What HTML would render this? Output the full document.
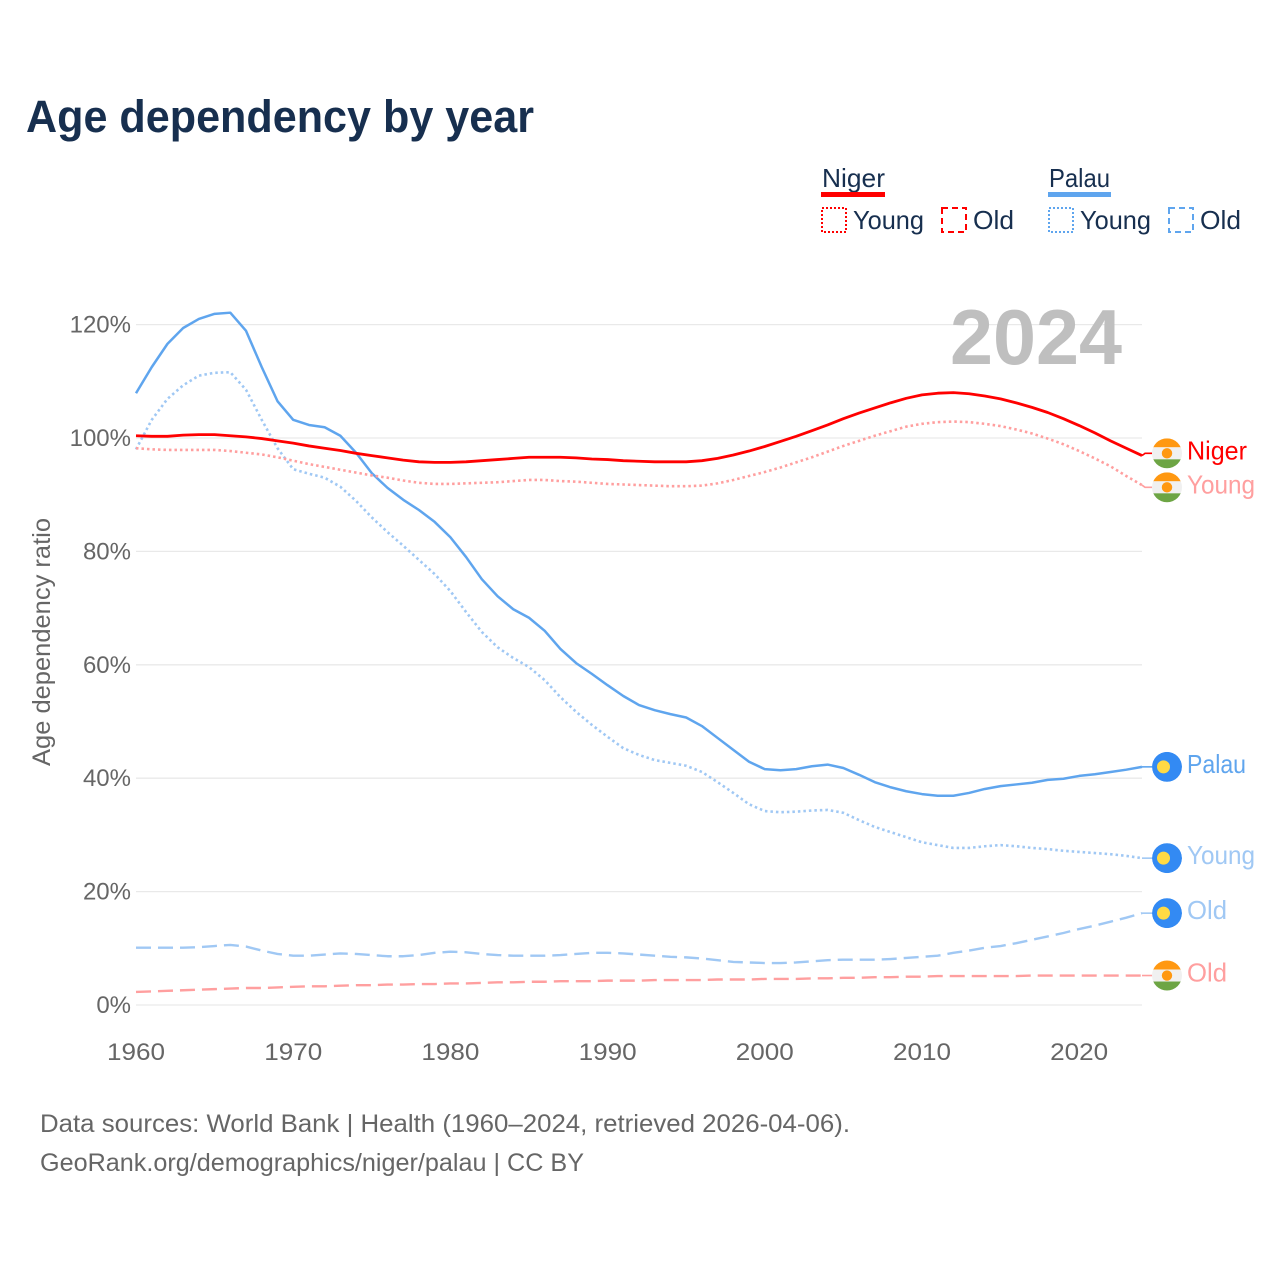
<!DOCTYPE html>
<html lang="en">
<head>
<meta charset="utf-8">
<title>Age dependency by year</title>
<style>
  html, body { margin: 0; padding: 0; background: #fff; }
  svg { display: block; font-family: "Liberation Sans", sans-serif; }
</style>
</head>
<body>
<svg id="chart" xmlns="http://www.w3.org/2000/svg" width="1280" height="1280" viewBox="0 0 1280 1280">
  <rect x="0" y="0" width="1280" height="1280" fill="#ffffff"/>
  <defs>
    <clipPath id="flag-clip"><circle cx="0" cy="0" r="15"/></clipPath>
  </defs>
  <text x="26" y="132" font-size="45" font-weight="700" fill="#172f4f" textLength="508" lengthAdjust="spacingAndGlyphs">Age dependency by year</text>

  <g id="grid"></g>
  <text x="950" y="364" font-size="78" font-weight="700" fill="#bfbfbf" textLength="172" lengthAdjust="spacingAndGlyphs">2024</text>
  <g id="y-axis"></g>
  <g id="x-axis"></g>
  <text transform="translate(50,642) rotate(-90)" text-anchor="middle" font-size="25" fill="#666666" textLength="248" lengthAdjust="spacingAndGlyphs">Age dependency ratio</text>
  <g id="series"></g>
  <g id="labels"></g>

  <g>
    <text x="822" y="187" font-size="26" fill="#172f4f" textLength="63" lengthAdjust="spacingAndGlyphs">Niger</text>
    <rect x="821" y="192" width="64" height="5" fill="#ff0000"/>
    <rect x="822" y="208" width="24" height="24" fill="none" stroke="#ff0000" stroke-width="2" stroke-dasharray="2 2"/>
    <text x="853" y="229" font-size="26" fill="#172f4f" textLength="71" lengthAdjust="spacingAndGlyphs">Young</text>
    <rect x="942" y="208" width="24" height="24" fill="none" stroke="#ff0000" stroke-width="2" stroke-dasharray="6 4"/>
    <text x="973" y="229" font-size="26" fill="#172f4f" textLength="41" lengthAdjust="spacingAndGlyphs">Old</text>

    <text x="1049" y="187" font-size="26" fill="#172f4f" textLength="61" lengthAdjust="spacingAndGlyphs">Palau</text>
    <rect x="1048" y="192" width="63" height="5" fill="#5fa5ee"/>
    <rect x="1049" y="208" width="24" height="24" fill="none" stroke="#5fa5ee" stroke-width="2" stroke-dasharray="2 2"/>
    <text x="1080" y="229" font-size="26" fill="#172f4f" textLength="71" lengthAdjust="spacingAndGlyphs">Young</text>
    <rect x="1169" y="208" width="24" height="24" fill="none" stroke="#5fa5ee" stroke-width="2" stroke-dasharray="6 4"/>
    <text x="1200" y="229" font-size="26" fill="#172f4f" textLength="41" lengthAdjust="spacingAndGlyphs">Old</text>
  </g>

  <text x="40" y="1132" font-size="25" fill="#666666" textLength="810" lengthAdjust="spacingAndGlyphs">Data sources: World Bank | Health (1960–2024, retrieved 2026-04-06).</text>
  <text x="40" y="1171" font-size="25" fill="#666666" textLength="544" lengthAdjust="spacingAndGlyphs">GeoRank.org/demographics/niger/palau | CC BY</text>
</svg>
<script>
const firstYear = 1960;
const lastYear = 2024;
const xTickYears = [1960, 1970, 1980, 1990, 2000, 2010, 2020];
const yTickValues = [0, 20, 40, 60, 80, 100, 120];

const nigerTotal = [100.4,100.3,100.3,100.5,100.6,100.6,100.4,100.2,99.9,99.5,
  99.1,98.6,98.2,97.8,97.3,96.9,96.5,96.1,95.8,95.7,
  95.7,95.8,96.0,96.2,96.4,96.6,96.6,96.6,96.5,96.3,
  96.2,96.0,95.9,95.8,95.8,95.8,96.0,96.4,97.0,97.7,
  98.5,99.4,100.3,101.3,102.3,103.4,104.4,105.3,106.2,107.0,
  107.6,107.9,108.0,107.8,107.4,106.9,106.2,105.4,104.5,103.4,
  102.2,100.9,99.5,98.2,96.9];
const nigerYoung = [98.2,98.0,97.9,97.9,97.9,97.9,97.7,97.4,97.1,96.6,
  96.0,95.4,94.9,94.4,93.9,93.4,93.0,92.5,92.1,91.9,
  91.9,92.0,92.1,92.2,92.4,92.6,92.6,92.4,92.3,92.1,
  91.9,91.8,91.7,91.6,91.5,91.5,91.6,92.0,92.6,93.3,
  94.0,94.8,95.7,96.6,97.6,98.6,99.5,100.4,101.2,102.0,
  102.5,102.8,102.9,102.8,102.5,102.1,101.5,100.8,99.9,98.9,
  97.7,96.4,95.0,93.3,91.7];
const nigerOld = [2.3,2.4,2.5,2.6,2.7,2.8,2.9,3.0,3.0,3.1,
  3.2,3.3,3.3,3.4,3.5,3.5,3.6,3.6,3.7,3.7,
  3.8,3.8,3.9,4.0,4.0,4.1,4.1,4.2,4.2,4.2,
  4.3,4.3,4.3,4.4,4.4,4.4,4.4,4.5,4.5,4.5,
  4.6,4.6,4.6,4.7,4.7,4.8,4.8,4.9,4.9,5.0,
  5.0,5.1,5.1,5.1,5.1,5.1,5.1,5.2,5.2,5.2,
  5.2,5.2,5.2,5.2,5.2];
const palauTotal = [107.9,112.5,116.6,119.4,121.0,121.9,122.1,118.9,112.5,106.5,
  103.2,102.3,101.9,100.4,97.4,93.8,91.2,89.1,87.3,85.2,
  82.5,79.0,75.1,72.1,69.8,68.3,66.0,62.8,60.3,58.4,
  56.4,54.5,52.9,52.0,51.3,50.7,49.2,47.1,45.0,42.9,
  41.6,41.4,41.6,42.1,42.4,41.8,40.6,39.3,38.4,37.7,
  37.2,36.9,36.9,37.4,38.1,38.6,38.9,39.2,39.7,39.9,
  40.4,40.7,41.1,41.5,42.0];
const palauYoung = [98.0,103.2,106.9,109.3,111.0,111.5,111.6,108.5,103.2,98.2,
  94.5,93.7,93.0,91.4,88.9,86.0,83.4,81.0,78.5,76.0,
  73.0,69.3,65.8,63.1,61.2,59.6,57.3,54.3,51.7,49.4,
  47.3,45.3,44.1,43.2,42.7,42.2,41.1,39.3,37.4,35.4,
  34.2,34.0,34.1,34.3,34.4,33.9,32.6,31.4,30.5,29.6,
  28.7,28.2,27.7,27.7,28.0,28.2,28.0,27.7,27.5,27.2,
  27.0,26.8,26.6,26.3,25.9];
const palauOld = [10.1,10.1,10.1,10.1,10.2,10.4,10.6,10.3,9.6,9.0,
  8.7,8.7,8.9,9.1,9.0,8.8,8.6,8.6,8.8,9.2,
  9.4,9.3,9.0,8.8,8.7,8.7,8.7,8.8,9.0,9.2,
  9.2,9.1,8.9,8.7,8.5,8.4,8.2,7.9,7.6,7.5,
  7.4,7.4,7.5,7.7,7.9,8.0,8.0,8.0,8.1,8.3,
  8.5,8.7,9.2,9.6,10.1,10.4,10.9,11.5,12.1,12.7,
  13.4,14.0,14.7,15.4,16.2];

const NS = 'http://www.w3.org/2000/svg';
const xLeft = 136, xRight = 1142, yZero = 1005, yPerPct = 5.67;
function xScale(year) { return xLeft + (year - firstYear) * (xRight - xLeft) / (lastYear - firstYear); }
function yScale(pct) { return yZero - pct * yPerPct; }
function make(tag, parent) { const el = document.createElementNS(NS, tag); parent.appendChild(el); return el; }

const gridG = document.getElementById('grid');
const yAxisG = document.getElementById('y-axis');
const xAxisG = document.getElementById('x-axis');
const seriesG = document.getElementById('series');
const labelsG = document.getElementById('labels');

yTickValues.forEach(function (v) {
  const line = make('line', gridG);
  
  
  line.setAttribute('x1', xLeft);
  line.setAttribute('x2', xRight);
  line.setAttribute('y1', yScale(v));
  line.setAttribute('y2', yScale(v));
  line.setAttribute('stroke', '#e9e9e9');
  line.setAttribute('stroke-width', '1.3');
  const t = make('text', yAxisG);
  
  
  t.setAttribute('x', 131);
  t.setAttribute('y', yScale(v) + 8);
  t.setAttribute('text-anchor', 'end');
  t.setAttribute('font-size', '24');
  t.setAttribute('fill', '#666666');
  t.textContent = v + '%';
});

xTickYears.forEach(function (yr) {
  const t = make('text', xAxisG);
  
  
  t.setAttribute('x', xScale(yr));
  t.setAttribute('y', 1060);
  t.setAttribute('text-anchor', 'middle');
  t.setAttribute('font-size', '24');
  t.setAttribute('fill', '#666666');
  t.setAttribute('textLength', '58');
  t.setAttribute('lengthAdjust', 'spacingAndGlyphs');
  t.textContent = yr;
});

const seriesList = [
  { key: 'niger-old', values: nigerOld, color: '#ff9f9f', dash: '15 7', width: 2.4, label: 'Old', labelColor: '#ff9f9f', labelWidth: 40, flag: 'niger' },
  { key: 'palau-old', values: palauOld, color: '#a0c8f4', dash: '15 7', width: 2.4, label: 'Old', labelColor: '#a0c8f4', labelWidth: 40, flag: 'palau' },
  { key: 'palau-young', values: palauYoung, color: '#a0c8f4', dash: '2.5 3', width: 2.6, label: 'Young', labelColor: '#a0c8f4', labelWidth: 68, flag: 'palau' },
  { key: 'palau-total', values: palauTotal, color: '#5fa5ee', dash: '', width: 2.5, label: 'Palau', labelColor: '#5fa5ee', labelWidth: 59, flag: 'palau' },
  { key: 'niger-young', values: nigerYoung, color: '#ff9f9f', dash: '2.5 3', width: 2.6, label: 'Young', labelColor: '#ff9f9f', labelWidth: 68, flag: 'niger' },
  { key: 'niger-total', values: nigerTotal, color: '#ff0000', dash: '', width: 2.8, label: 'Niger', labelColor: '#ff0000', labelWidth: 60, flag: 'niger' }
];

seriesList.forEach(function (s) {
  const p = make('path', seriesG);
  
  
  const d = s.values.map(function (v, i) {
    return (i ? 'L' : 'M') + xScale(firstYear + i).toFixed(2) + ' ' + yScale(v).toFixed(2);
  }).join(' ');
  p.setAttribute('d', d);
  p.setAttribute('fill', 'none');
  p.setAttribute('stroke', s.color);
  p.setAttribute('stroke-width', s.width);
  p.setAttribute('stroke-linejoin', 'round');
  if (s.dash) p.setAttribute('stroke-dasharray', s.dash);
});

// end-label placement: push colliding labels apart around their data positions
const minGap = 34;
const placed = seriesList.map(function (s) {
  const endY = yScale(s.values[s.values.length - 1]);
  return { s: s, endY: endY, y: endY };
}).sort(function (a, b) { return a.endY - b.endY; });
for (let pass = 0; pass < 20; pass++) {
  for (let i = 1; i < placed.length; i++) {
    const overlap = minGap - (placed[i].y - placed[i - 1].y);
    if (overlap > 0) {
      placed[i - 1].y -= overlap / 2;
      placed[i].y += overlap / 2;
    }
  }
}

placed.forEach(function (item) {
  const s = item.s, y = item.y;
  const conn = make('path', labelsG);
  
  
  conn.setAttribute('d', 'M' + xRight + ' ' + item.endY.toFixed(2) + ' L' + (xRight + 3) + ' ' + y.toFixed(2) + ' L1152 ' + y.toFixed(2));
  conn.setAttribute('fill', 'none');
  conn.setAttribute('stroke', s.color);
  conn.setAttribute('stroke-width', '1.6');

  const flag = make('g', labelsG);
  
  
  flag.setAttribute('transform', 'translate(1167,' + y.toFixed(2) + ')');
  const inner = make('g', flag);
  inner.setAttribute('clip-path', 'url(#flag-clip)');
  if (s.flag === 'niger') {
    const top = make('rect', inner);
    top.setAttribute('x', -15); top.setAttribute('y', -15);
    top.setAttribute('width', 30); top.setAttribute('height', 9);
    top.setAttribute('fill', '#ff9811');
    const mid = make('rect', inner);
    mid.setAttribute('x', -15); mid.setAttribute('y', -6);
    mid.setAttribute('width', 30); mid.setAttribute('height', 12);
    mid.setAttribute('fill', '#f0f0f0');
    const bottom = make('rect', inner);
    bottom.setAttribute('x', -15); bottom.setAttribute('y', 6);
    bottom.setAttribute('width', 30); bottom.setAttribute('height', 9);
    bottom.setAttribute('fill', '#6da544');
    const sun = make('circle', inner);
    sun.setAttribute('cx', 0); sun.setAttribute('cy', 0); sun.setAttribute('r', 5.2);
    sun.setAttribute('fill', '#ff9811');
  } else {
    const bg = make('circle', inner);
    bg.setAttribute('cx', 0); bg.setAttribute('cy', 0); bg.setAttribute('r', 15);
    bg.setAttribute('fill', '#338af3');
    const moon = make('circle', inner);
    moon.setAttribute('cx', -3.5); moon.setAttribute('cy', 0); moon.setAttribute('r', 6.5);
    moon.setAttribute('fill', '#ffda44');
  }

  const t = make('text', labelsG);
  
  
  t.setAttribute('x', 1187);
  t.setAttribute('y', (y + 6).toFixed(2));
  t.setAttribute('font-size', '26');
  t.setAttribute('fill', s.labelColor);
  t.setAttribute('textLength', s.labelWidth);
  t.setAttribute('lengthAdjust', 'spacingAndGlyphs');
  t.textContent = s.label;
});
</script>
</body>
</html>
